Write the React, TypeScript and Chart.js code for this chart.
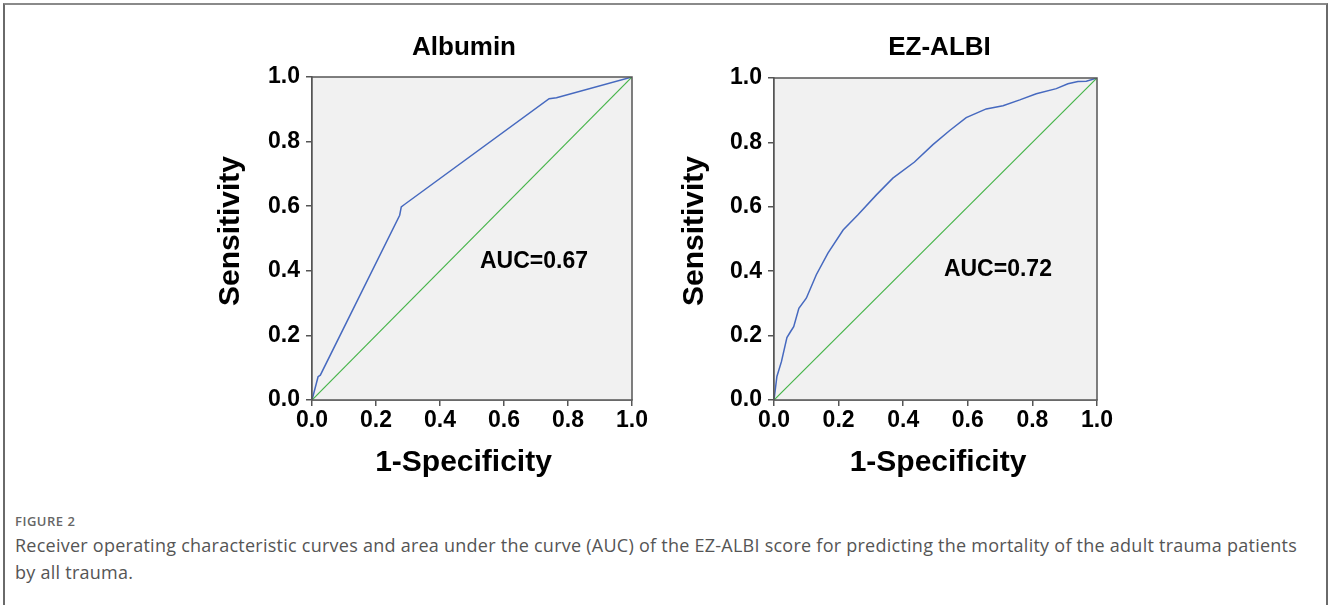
import React, { useEffect, useRef } from 'react';
import { Chart, registerables } from 'chart.js';

Chart.register(...registerables);

// ---------- data ----------
const panelTitles = ['Albumin', 'EZ-ALBI'];
const xAxisTitle = '1-Specificity';
const yAxisTitle = 'Sensitivity';
const tickValues = [0, 0.2, 0.4, 0.6, 0.8, 1.0];

const albuminFpr = [0, 0.019, 0.026, 0.274, 0.279, 0.29, 0.741, 0.764, 1];
const albuminTpr = [0, 0.072, 0.077, 0.572, 0.598, 0.606, 0.933, 0.936, 1];

const ezalbiFpr = [0, 0.009, 0.023, 0.04, 0.051, 0.061, 0.077, 0.1, 0.131, 0.167, 0.214, 0.26, 0.317, 0.368, 0.435, 0.492, 0.544, 0.595, 0.657, 0.709, 0.761, 0.812, 0.874, 0.91, 0.941, 0.967, 1];
const ezalbiTpr = [0, 0.073, 0.119, 0.194, 0.212, 0.228, 0.285, 0.316, 0.389, 0.456, 0.528, 0.575, 0.637, 0.689, 0.739, 0.793, 0.837, 0.877, 0.904, 0.914, 0.932, 0.951, 0.967, 0.982, 0.989, 0.99, 1];

const referenceFpr = [0, 1];
const referenceTpr = [0, 1];

const aucLabels = ['AUC=0.67', 'AUC=0.72'];
const aucAnchorX = [0.525, 0.526];
const aucAnchorY = [0.427, 0.404];

const captionLabel = 'FIGURE 2';
const captionLines = [
  'Receiver operating characteristic curves and area under the curve (AUC) of the EZ-ALBI score for predicting the mortality of the adult trauma patients',
  'by all trauma.',
];

// ---------- styling ----------
const FONT = '"Liberation Sans", Arial, sans-serif';
const BLUE = '#4669bf';
const GREEN = '#45b449';
const AXIS = '#555555';
const PLOT_BG = '#f1f1f1';

const toPoints = (xs: number[], ys: number[]) => xs.map((x, i) => ({ x, y: ys[i] }));

const rocFrame = {
  id: 'rocFrame',
  beforeDatasetsDraw(chart: any) {
    const { ctx, chartArea: a } = chart;
    ctx.save();
    ctx.fillStyle = PLOT_BG;
    ctx.fillRect(a.left, a.top, a.right - a.left, a.bottom - a.top);
    ctx.restore();
  },
  afterDatasetsDraw(chart: any, _args: any, opts: any) {
    const { ctx, chartArea: a, scales } = chart;
    ctx.save();
    ctx.strokeStyle = AXIS;
    ctx.lineWidth = 1.5;
    ctx.strokeRect(a.left, a.top, a.right - a.left, a.bottom - a.top);
    ctx.fillStyle = '#000';
    ctx.font = `bold 23px ${FONT}`;
    ctx.textAlign = 'left';
    ctx.textBaseline = 'middle';
    ctx.fillText(opts.auc, scales.x.getPixelForValue(opts.ax), scales.y.getPixelForValue(opts.ay));
    ctx.textAlign = 'center';
    // panel title
    ctx.font = `bold 26px ${FONT}`;
    ctx.fillText(opts.title, (a.left + a.right) / 2 + opts.titleDx, opts.titleY);
    // x axis title
    ctx.font = `bold 30px ${FONT}`;
    ctx.fillText(opts.xTitle, (a.left + a.right) / 2 + opts.xTitleDx, opts.xTitleY);
    // y axis title
    ctx.translate(a.left - opts.yTitleOffset, opts.yTitleY);
    ctx.rotate(-Math.PI / 2);
    ctx.fillText(opts.yTitle, 0, 0);
    ctx.restore();
  },
};

type PanelProps = {
  idx: number;
  fpr: number[];
  tpr: number[];
  left: number;
  padRight: number;
  padTop: number;
  titleDx: number;
  xTitleDx: number;
  yTitleOffset: number;
};

const CW = 470;
const CH = 490;

function Panel({ idx, fpr, tpr, left, padRight, padTop, titleDx, xTitleDx, yTitleOffset }: PanelProps) {
  const ref = useRef<HTMLCanvasElement | null>(null);
  useEffect(() => {
    if (!ref.current) return;
    const tickFont = { family: FONT, size: 23, weight: 'bold' as const };
    const chart = new Chart(ref.current, {
      type: 'scatter',
      data: {
        datasets: [
          {
            data: toPoints(referenceFpr, referenceTpr),
            showLine: true,
            borderColor: GREEN,
            borderWidth: 1.2,
            pointRadius: 0,
            fill: false,
          },
          {
            data: toPoints(fpr, tpr),
            showLine: true,
            borderColor: BLUE,
            borderWidth: 1.5,
            pointRadius: 0,
            fill: false,
          },
        ],
      },
      options: {
        animation: false,
        responsive: false,
        devicePixelRatio: 1,
        layout: { padding: { top: padTop, left: 0, right: padRight, bottom: 0 } },
        plugins: {
          legend: { display: false },
          tooltip: { enabled: false },
          title: { display: false },
          rocFrame: {
            title: panelTitles[idx],
            titleDx,
            titleY: 48,
            xTitle: xAxisTitle,
            xTitleDx,
            xTitleY: 463,
            yTitle: yAxisTitle,
            yTitleOffset,
            yTitleY: 231,
            auc: aucLabels[idx],
            ax: aucAnchorX[idx],
            ay: aucAnchorY[idx],
          },
        } as any,
        scales: {
          x: {
            type: 'linear',
            min: 0,
            max: 1,
            afterBuildTicks: (s: any) => {
              s.ticks = tickValues.map((v) => ({ value: v }));
            },
            afterFit: (s: any) => {
              s.height = 90;
            },
            ticks: {
              callback: (v: any) => Number(v).toFixed(1),
              font: tickFont,
              color: '#000',
              padding: 1,
              maxRotation: 0,
            },
            grid: { drawOnChartArea: false, drawTicks: true, tickLength: 6, color: AXIS, lineWidth: 1.5 },
            border: { display: true, color: AXIS, width: 1.5 },
            title: { display: false },
          },
          y: {
            type: 'linear',
            min: 0,
            max: 1,
            afterBuildTicks: (s: any) => {
              s.ticks = tickValues.map((v) => ({ value: v }));
            },
            afterFit: (s: any) => {
              s.width = 122;
            },
            ticks: {
              callback: (v: any) => Number(v).toFixed(1),
              font: tickFont,
              color: '#000',
              padding: 6,
            },
            grid: { drawOnChartArea: false, drawTicks: true, tickLength: 6, color: AXIS, lineWidth: 1.5 },
            border: { display: true, color: AXIS, width: 1.5 },
            title: { display: false },
          },
        },
      },
      plugins: [rocFrame as any],
    });
    return () => chart.destroy();
  }, []);
  return (
    <canvas
      ref={ref}
      width={CW}
      height={CH}
      style={{ position: 'absolute', left, top: 0, width: CW, height: CH }}
    />
  );
}

export default function App() {
  return (
    <div
      style={{
        position: 'absolute',
        left: 0,
        top: 0,
        width: 1328,
        height: 605,
        overflow: 'hidden',
        background: '#fff',
      }}
    >
      <div
        style={{
          position: 'absolute',
          left: 3,
          top: 3,
          width: 1325,
          height: 700,
          boxSizing: 'border-box',
          borderTop: '2px solid #8a8a8a',
          borderLeft: '2px solid #6a6a6a',
          borderRight: '2px solid #6a6a6a',
        }}
      />
      <Panel idx={0} fpr={albuminFpr} tpr={albuminTpr} left={190} padRight={28} padTop={77} titleDx={-8} xTitleDx={-8.5} yTitleOffset={81} />
      <Panel idx={1} fpr={ezalbiFpr} tpr={ezalbiTpr} left={652} padRight={25} padTop={78} titleDx={4} xTitleDx={2.5} yTitleOffset={79} />
      <div
        style={{
          position: 'absolute',
          left: 15,
          top: 513,
          fontFamily: '"Open Sans", sans-serif',
          fontSize: 13,
          fontWeight: 600,
          letterSpacing: 0.5,
          color: '#666',
          lineHeight: '16px',
        }}
      >
        {captionLabel}
      </div>
      <div
        style={{
          position: 'absolute',
          left: 15,
          top: 532,
          fontFamily: '"Open Sans", sans-serif',
          fontSize: 18,
          letterSpacing: 0.25,
          color: '#555',
          lineHeight: '27px',
          whiteSpace: 'nowrap',
        }}
      >
        {captionLines.map((line, i) => (
          <div key={i}>{line}</div>
        ))}
      </div>
    </div>
  );
}
